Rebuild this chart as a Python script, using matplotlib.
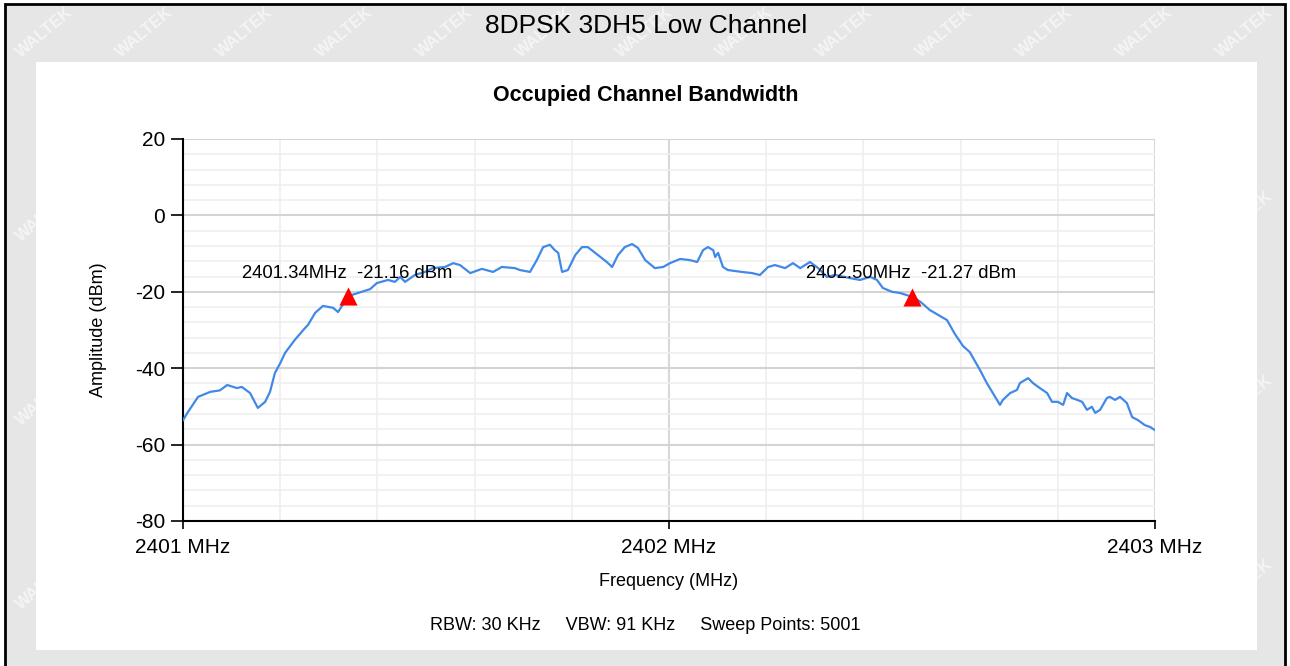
"""
Occupied channel bandwidth plot, 8DPSK 3DH5 low channel.
Writes out.png (1290x666).
"""
import matplotlib.pyplot as plt
from matplotlib.patches import Rectangle
from matplotlib.ticker import MultipleLocator

plt.rcParams.update({
    "font.family": ["Liberation Sans", "DejaVu Sans"],
    "font.size": 13,
    "axes.unicode_minus": False,
})

# trace (MHz, dBm)
freq_mhz = [
    2401.000, 2401.010, 2401.031, 2401.056, 2401.076, 2401.091, 2401.111, 2401.121,
    2401.138, 2401.154, 2401.169, 2401.179, 2401.189, 2401.200, 2401.210, 2401.230,
    2401.251, 2401.257, 2401.272, 2401.288, 2401.309, 2401.319, 2401.340, 2401.348,
    2401.368, 2401.385, 2401.399, 2401.422, 2401.436, 2401.447, 2401.457, 2401.477,
    2401.498, 2401.514, 2401.539, 2401.556, 2401.570, 2401.591, 2401.615, 2401.638,
    2401.656, 2401.683, 2401.693, 2401.714, 2401.728, 2401.741, 2401.755, 2401.765,
    2401.772, 2401.780, 2401.792, 2401.807, 2401.821, 2401.833, 2401.854, 2401.872,
    2401.883, 2401.895, 2401.909, 2401.924, 2401.936, 2401.951, 2401.971, 2401.988,
    2402.002, 2402.023, 2402.043, 2402.058, 2402.070, 2402.080, 2402.091, 2402.095,
    2402.101, 2402.111, 2402.121, 2402.150, 2402.171, 2402.187, 2402.204, 2402.218,
    2402.239, 2402.255, 2402.270, 2402.290, 2402.307, 2402.325, 2402.342, 2402.372,
    2402.393, 2402.414, 2402.428, 2402.440, 2402.459, 2402.475, 2402.500, 2402.516,
    2402.537, 2402.572, 2402.588, 2402.605, 2402.619, 2402.640, 2402.654, 2402.671,
    2402.681, 2402.687, 2402.702, 2402.716, 2402.722, 2402.739, 2402.749, 2402.763,
    2402.778, 2402.788, 2402.800, 2402.811, 2402.819, 2402.829, 2402.840, 2402.850,
    2402.860, 2402.870, 2402.877, 2402.887, 2402.901, 2402.907, 2402.918, 2402.928,
    2402.942, 2402.953, 2402.965, 2402.979, 2402.990, 2403.000,
]
amp_dbm = [
    -53.6, -51.5, -47.5, -46.2, -45.8, -44.4, -45.2, -44.9,
    -46.5, -50.4, -48.8, -46.2, -41.3, -38.7, -36.0, -32.6,
    -29.5, -28.7, -25.5, -23.7, -24.2, -25.3, -21.2, -20.8,
    -20.0, -19.3, -17.7, -16.9, -17.4, -16.1, -17.4, -15.6,
    -14.8, -13.8, -13.5, -12.5, -13.0, -15.1, -14.0, -14.8,
    -13.5, -13.8, -14.3, -14.8, -11.7, -8.3, -7.7, -9.1,
    -9.8, -14.8, -14.3, -10.4, -8.3, -8.3, -10.4, -12.2,
    -13.5, -10.4, -8.3, -7.5, -8.5, -11.7, -13.8, -13.5,
    -12.5, -11.4, -11.7, -12.2, -9.1, -8.3, -9.1, -10.9,
    -9.8, -13.5, -14.3, -14.8, -15.1, -15.6, -13.5, -13.0,
    -13.8, -12.5, -13.8, -12.2, -13.8, -16.1, -15.6, -16.4,
    -16.9, -16.1, -16.9, -19.0, -20.0, -20.3, -21.3, -22.5,
    -24.8, -27.4, -31.0, -34.2, -35.8, -40.5, -43.9, -47.5,
    -49.6, -48.3, -46.5, -45.7, -43.9, -42.6, -43.9, -45.2,
    -46.5, -48.8, -48.8, -49.6, -46.5, -47.8, -48.3, -48.8,
    -50.9, -50.1, -51.7, -50.9, -47.8, -47.5, -48.3, -47.5,
    -49.1, -52.8, -53.6, -54.9, -55.4, -56.2,
]

# OBW markers
marker_freq = [2401.34, 2402.50]
marker_amp = [-21.16, -21.27]

x_ticks = [2401, 2402, 2403]
x_ticklabels = ["2401 MHz", "2402 MHz", "2403 MHz"]
y_ticks = [20, 0, -20, -40, -60, -80]

fig = plt.figure(figsize=(12.9, 6.66), dpi=100)
W, H = 1290, 666

# gray frame with faint watermark, white panel on top
fig.patches.append(Rectangle((5 / W, -0.05), 1280 / W, (666 - 4) / H + 0.05,
                             transform=fig.transFigure, facecolor="#e6e6e6",
                             edgecolor="black", lw=2, zorder=-3))
for row in range(7):
    for col in range(13):
        cx = 45 + col * 100 + (row % 2) * 50
        cy = 32 + row * 92
        if cx > 1245:
            continue
        fig.text(cx / W, 1 - cy / H, "WALTEK", rotation=40, color="white",
                 alpha=0.6, fontsize=12, fontweight="bold", ha="center",
                 va="center", zorder=-2)
fig.patches.append(Rectangle((36 / W, 16 / H), (1257 - 36) / W, (650 - 62) / H,
                             transform=fig.transFigure, facecolor="white",
                             edgecolor="none", zorder=-1))

fig.text(646 / W, 1 - 26 / H, "8DPSK 3DH5 Low Channel", fontsize=19,
         ha="center", va="center")
fig.text(646 / W, 1 - 95 / H, "Occupied Channel Bandwidth", fontsize=15.5,
         fontweight="bold", ha="center", va="center")
fig.text(645 / W, 1 - 626 / H, "RBW: 30 KHz     VBW: 91 KHz     Sweep Points: 5001",
         fontsize=13, ha="center", va="center")

ax = fig.add_axes([183 / W, 145 / H, (1155 - 183) / W, (521 - 139) / H])
ax.set_facecolor("white")

ax.set_xlim(2401, 2403)
ax.set_ylim(-80, 20)
ax.xaxis.set_minor_locator(MultipleLocator(0.2))
ax.yaxis.set_minor_locator(MultipleLocator(4))
ax.grid(which="minor", color="#efefef", lw=1.2)
ax.grid(which="major", axis="y", color="#d4d4d4", lw=1.5)
ax.grid(which="major", axis="x", color="#d8d8d8", lw=1.5)
ax.set_axisbelow(True)

ax.plot(freq_mhz, amp_dbm, color="#4189e8", lw=1.6, zorder=3)
ax.scatter(marker_freq, marker_amp, marker="^", s=170, color="#ff0000",
           lw=0, zorder=4)
for f, a in zip(marker_freq, marker_amp):
    ax.annotate(f"{f:.2f}MHz  {a:.2f} dBm", xy=(f, a), xytext=(-106, 23),
                textcoords="offset pixels", fontsize=13.3, ha="left", va="center",
                zorder=5)

ax.set_xticks(x_ticks)
ax.set_xticklabels(x_ticklabels)
ax.set_yticks(y_ticks)
ax.tick_params(axis="x", which="major", length=6, width=1.2, labelsize=15, pad=6)
ax.tick_params(axis="y", which="major", length=9, width=1.2, labelsize=15, pad=4)
ax.tick_params(which="minor", length=0)

for side in ["top", "right"]:
    ax.spines[side].set_visible(False)
for side in ["left", "bottom"]:
    ax.spines[side].set_linewidth(1.5)

ax.set_xlabel("Frequency (MHz)", fontsize=13, labelpad=12)
ax.set_ylabel("Amplitude (dBm)", fontsize=13, labelpad=20)

fig.savefig("out.png", dpi=100)
